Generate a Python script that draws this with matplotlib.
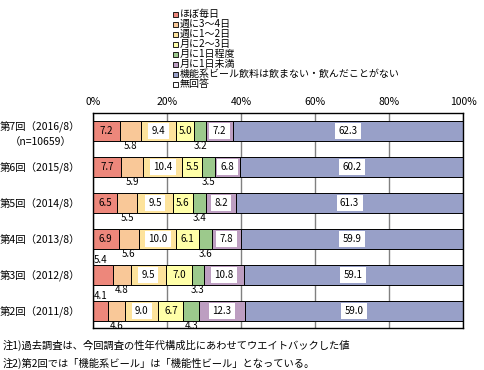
import matplotlib
matplotlib.use('Agg')
import matplotlib.pyplot as plt
from matplotlib.patches import Rectangle

plt.rcParams['font.family'] = ['Noto Sans CJK JP', 'DejaVu Sans']

# survey rounds, top to bottom
rounds = ['第7回（2016/8）\n（n=10659）', '第6回（2015/8）', '第5回（2014/8）',
          '第4回（2013/8）', '第3回（2012/8）', '第2回（2011/8）']

daily = [7.2, 7.7, 6.5, 6.9, 5.4, 4.1]
week3_4 = [5.8, 5.9, 5.5, 5.6, 4.8, 4.6]
week1_2 = [9.4, 10.4, 9.5, 10.0, 9.5, 9.0]
month2_3 = [5.0, 5.5, 5.6, 6.1, 7.0, 6.7]
month1 = [3.2, 3.5, 3.4, 3.6, 3.3, 4.3]
under_month1 = [7.2, 6.8, 8.2, 7.8, 10.8, 12.3]
never = [62.3, 60.2, 61.3, 59.9, 59.1, 59.0]
no_answer = [0.0, 0.0, 0.0, 0.1, 0.1, 0.0]

names = ['ほぼ毎日', '週に3～4日', '週に1～2日', '月に2～3日', '月に1日程度',
         '月に1日未満', '機能系ビール飲料は飲まない・飲んだことがない', '無回答']
series = [daily, week3_4, week1_2, month2_3, month1, under_month1, never, no_answer]
colors = ['#ED877B', '#F9C898', '#FDE39C', '#FFFFA8', '#9CC98C', '#BD9EC1', '#98A0C8', '#FFFFFF']
# how the value label of each series is put
modes = ['in', 'below', 'box', 'in', 'below', 'box', 'box', None]

xticks = [0, 20, 40, 60, 80, 100]

fig = plt.figure(figsize=(4.84, 3.70), dpi=100)
ax = fig.add_axes([93 / 484, 42 / 370, 370 / 484, 215 / 370])

ypos = list(range(len(rounds)))
h = 20 / 36
left = [0.0] * len(rounds)
for vals, col, mode in zip(series, colors, modes):
    bars = ax.barh(ypos, vals, left=left, height=h, color=col,
                   edgecolor='black', linewidth=0.7, zorder=2)
    for p, v in zip(bars.patches, vals):
        xc = p.get_x() + p.get_width() / 2
        yc = p.get_y() + h / 2
        if mode is None:
            continue
        if mode == 'in' and col == colors[0] and v < 6:
            # small first segment: label sits over the bar at left
            ax.text(p.get_x() + 0.3, yc - h / 2 - 0.13, f'{v:.1f}', ha='left',
                    va='center', fontsize=7, zorder=4)
        elif mode == 'in':
            ax.text(xc, yc, f'{v:.1f}', ha='center', va='center', fontsize=7, zorder=4)
        elif mode == 'below':
            ax.text(xc, yc + h / 2 + 0.15, f'{v:.1f}', ha='center', va='center',
                    fontsize=7, zorder=4)
        else:
            ax.text(xc, yc, f'{v:.1f}', ha='center', va='center', fontsize=7, zorder=4,
                    bbox=dict(boxstyle='square,pad=0.35', fc='white', ec='none'))
    left = [a + b for a, b in zip(left, vals)]

ax.set_xlim(0, 100)
ax.set_ylim(5.47, -0.5)
ax.set_xticks(xticks)
ax.set_xticklabels([f'{t}%' for t in xticks], fontsize=7.5)
ax.xaxis.tick_top()
ax.xaxis.grid(True, color='#808080', linewidth=1)
ax.set_axisbelow(True)
ax.set_yticks(ypos)
ax.set_yticklabels(rounds, fontsize=7.5, multialignment='center', linespacing=1.5)
ax.tick_params(axis='x', length=0, pad=4)
ax.tick_params(axis='y', length=0, pad=9)
for s in ax.spines.values():
    s.set_color('black')
    s.set_linewidth(1)

# legend drawn by hand, stacked squares at the top
for i, (name, col) in enumerate(zip(names, colors)):
    yc = 1 - (14 + i * 10) / 370
    fig.patches.append(Rectangle((173 / 484, yc - 2.5 / 370), 5 / 484, 5 / 370,
                                 transform=fig.transFigure, facecolor=col,
                                 edgecolor='black', linewidth=0.6))
    fig.text(180 / 484, yc, name, fontsize=7.2, va='center', ha='left')

fig.text(3 / 484, 1 - 345 / 370, '注1)過去調査は、今回調査の性年代構成比にあわせてウエイトバックした値',
         fontsize=7.4, va='center')
fig.text(3 / 484, 1 - 363 / 370, '注2)第2回では「機能系ビール」は「機能性ビール」となっている。',
         fontsize=7.4, va='center')

fig.savefig('out.png', dpi=100)
